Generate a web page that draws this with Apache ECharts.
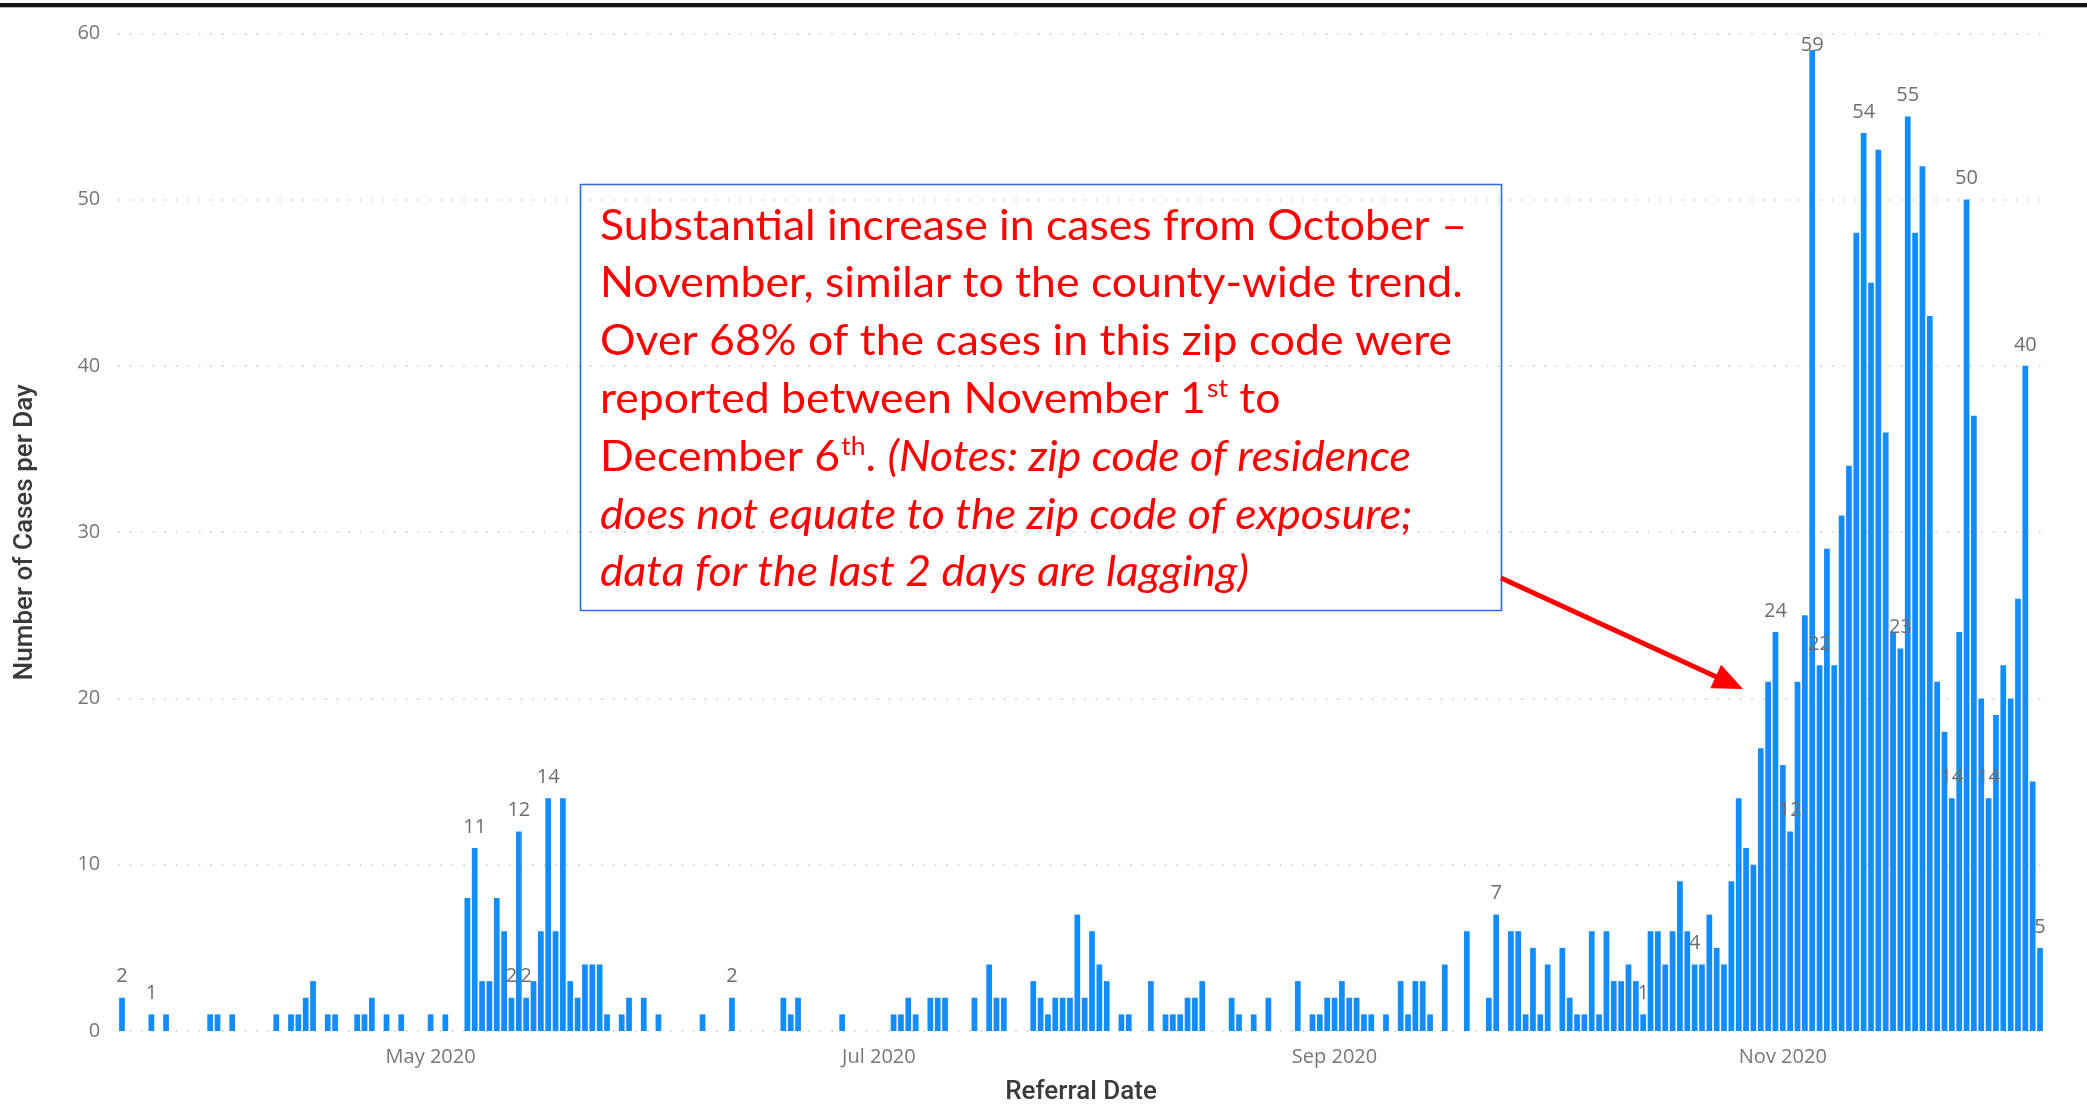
<!DOCTYPE html>
<html>
<head>
<meta charset="utf-8">
<script src="https://cdn.jsdelivr.net/npm/echarts/dist/echarts.min.js"></script>
<style>
  html, body { margin: 0; padding: 0; background: #ffffff; }
  #chart { width: 2087px; height: 1110px; }
</style>
</head>
<body>
<div id="chart"></div>
<script>
// daily cases by referral date, first day is 2020-03-20
const startDate = [2020, 2, 20];
const mar = [2, 0, 0, 0, 1, 0, 1, 0, 0, 0, 0, 0];
const apr = [1, 1, 0, 1, 0, 0, 0, 0, 0, 1, 0, 1, 1, 2, 3, 0, 1, 1, 0, 0, 1, 1, 2, 0, 1, 0, 1, 0, 0, 0];
const may = [1, 0, 1, 0, 0, 8, 11, 3, 3, 8, 6, 2, 12, 2, 3, 6, 14, 6, 14, 3, 2, 4, 4, 4, 1, 0, 1, 2, 0, 2, 0];
const jun = [1, 0, 0, 0, 0, 0, 1, 0, 0, 0, 2, 0, 0, 0, 0, 0, 0, 2, 1, 2, 0, 0, 0, 0, 0, 1, 0, 0, 0, 0];
const jul = [0, 0, 1, 1, 2, 1, 0, 2, 2, 2, 0, 0, 0, 2, 0, 4, 2, 2, 0, 0, 0, 3, 2, 1, 2, 2, 2, 7, 2, 6, 4];
const aug = [3, 0, 1, 1, 0, 0, 3, 0, 1, 1, 1, 2, 2, 3, 0, 0, 0, 2, 1, 0, 1, 0, 2, 0, 0, 0, 3, 0, 1, 1, 2];
const sep = [2, 3, 2, 2, 1, 1, 0, 1, 0, 3, 1, 3, 3, 1, 0, 4, 0, 0, 6, 0, 0, 2, 7, 0, 6, 6, 1, 5, 1, 4];
const oct = [0, 5, 2, 1, 1, 6, 1, 6, 3, 3, 4, 3, 1, 6, 6, 4, 6, 9, 6, 4, 4, 7, 5, 4, 9, 14, 11, 10, 17, 21, 24];
const nov = [16, 12, 21, 25, 59, 22, 29, 22, 31, 34, 48, 54, 45, 53, 36, 24, 23, 55, 48, 52, 43, 21, 18, 14, 24, 50, 37, 20, 14, 19];
const dec = [22, 20, 26, 40, 15, 5];

// days that carry a data label
const labeledDays = ['2020-03-20', '2020-03-24', '2020-05-07', '2020-05-12', '2020-05-13', '2020-05-14',
  '2020-05-17', '2020-06-11', '2020-09-23', '2020-10-13', '2020-10-20', '2020-10-31', '2020-11-02',
  '2020-11-05', '2020-11-06', '2020-11-12', '2020-11-17', '2020-11-18', '2020-11-24', '2020-11-26',
  '2020-11-29', '2020-12-04', '2020-12-06'];

const tickMonths = ['2020-05', '2020-07', '2020-09', '2020-11'];
const monthNames = ['Jan', 'Feb', 'Mar', 'Apr', 'May', 'Jun', 'Jul', 'Aug', 'Sep', 'Oct', 'Nov', 'Dec'];

const noteLines = [
  [['n', 'Substantial increase in cases from October –']],
  [['n', 'November, similar to the county-wide trend.']],
  [['n', 'Over 68% of the cases in this zip code were']],
  [['n', 'reported between November 1'], ['sup', 'st'], ['n', ' to']],
  [['n', 'December 6'], ['sup', 'th'], ['n', '. '], ['i', '(Notes: zip code of residence']],
  [['i', 'does not equate to the zip code of exposure;']],
  [['i', 'data for the last 2 days are lagging)']]
];

var dailyCases = [].concat(mar, apr, may, jun, jul, aug, sep, oct, nov, dec);
var yMax = 60;

function pad(n) { return n < 10 ? '0' + n : '' + n; }

var days = [];
for (var i = 0; i < dailyCases.length; i++) {
  var d = new Date(startDate[0], startDate[1], startDate[2] + i);
  days.push(d.getFullYear() + '-' + pad(d.getMonth() + 1) + '-' + pad(d.getDate()));
}

var barData = dailyCases.map(function (v, i) {
  if (labeledDays.indexOf(days[i]) >= 0) {
    // labels near the top stay inside the plot, like the original
    if (v > yMax - 3) return { value: v, label: { show: true, distance: -5 } };
    return { value: v, label: { show: true } };
  }
  return v;
});

var chart = echarts.init(document.getElementById('chart'), null, { renderer: 'canvas' });

var RED = '#ff0000';
var noteFont = 'Lato';
var noteSize = 42;

// squeeze the note text to the width of the original box lines
var cv = document.createElement('canvas').getContext('2d');
cv.font = noteSize + 'px ' + noteFont;
var noteScale = 867 / cv.measureText(noteLines[0][0][1]).width;

var graphics = [
  { type: 'rect', shape: { x: 0, y: 3, width: 2087, height: 4 }, style: { fill: '#151515' }, silent: true },
  { type: 'rect', shape: { x: 0, y: 7, width: 2087, height: 1 }, style: { fill: '#b8b8b8' }, silent: true },
  {
    type: 'rect', shape: { x: 580.5, y: 184.5, width: 921, height: 426 },
    style: { fill: null, stroke: '#2b6de0', lineWidth: 1.6 }, z: 10
  }
];

noteLines.forEach(function (line, k) {
  var txt = line.map(function (seg) { return '{' + seg[0] + '|' + seg[1] + '}'; }).join('');
  graphics.push({
    type: 'text',
    x: 600,
    y: 226 + k * 57.8,
    scaleX: noteScale,
    z: 11,
    style: {
      text: txt,
      fill: RED,
      verticalAlign: 'middle',
      rich: {
        n: { fontFamily: noteFont, fontSize: noteSize, color: RED, lineHeight: 50, verticalAlign: 'middle' },
        i: { fontFamily: noteFont, fontSize: noteSize, fontStyle: 'italic', color: RED, lineHeight: 50, verticalAlign: 'middle' },
        sup: { fontFamily: noteFont, fontSize: 25, color: RED, lineHeight: 50, verticalAlign: 'top', padding: [2, 0, 0, 1] }
      }
    }
  });
});

// arrow from the note box to the October rise
var ax1 = 1501, ay1 = 578, ax2 = 1743, ay2 = 689;
var ang = Math.atan2(ay2 - ay1, ax2 - ax1);
var headLen = 30, headHalf = 13;
var bx = ax2 - headLen * Math.cos(ang), by = ay2 - headLen * Math.sin(ang);
graphics.push({
  type: 'line', z: 11,
  shape: { x1: ax1, y1: ay1, x2: bx + 4 * Math.cos(ang), y2: by + 4 * Math.sin(ang) },
  style: { stroke: RED, lineWidth: 5 }
});
graphics.push({
  type: 'polygon', z: 11,
  shape: {
    points: [
      [ax2, ay2],
      [bx - headHalf * Math.sin(ang), by + headHalf * Math.cos(ang)],
      [bx + headHalf * Math.sin(ang), by - headHalf * Math.cos(ang)]
    ]
  },
  style: { fill: RED }
});

var option = {
  animation: false,
  backgroundColor: '#ffffff',
  grid: { left: 118.3, right: 43.3, top: 33.3, bottom: 73.5, containLabel: false },
  xAxis: {
    type: 'category',
    data: days,
    boundaryGap: true,
    name: 'Referral Date',
    nameLocation: 'middle',
    nameGap: 48,
    nameTextStyle: { fontFamily: 'Roboto', fontSize: 26, fontWeight: 500, color: '#3a3a3a' },
    axisLine: { show: false },
    axisTick: { show: false },
    splitLine: { show: false },
    axisLabel: {
      interval: function (idx, val) {
        return val.slice(8) === '01' && tickMonths.indexOf(val.slice(0, 7)) >= 0;
      },
      formatter: function (val) {
        return monthNames[parseInt(val.slice(5, 7), 10) - 1] + ' ' + val.slice(0, 4);
      },
      margin: 16,
      fontFamily: 'Open Sans',
      fontSize: 20,
      color: '#777777'
    }
  },
  yAxis: {
    type: 'value',
    min: 0,
    max: yMax,
    interval: 10,
    name: 'Number of Cases per Day',
    nameLocation: 'middle',
    nameGap: 80,
    nameTextStyle: { fontFamily: 'Roboto', fontSize: 26, fontWeight: 500, color: '#3a3a3a' },
    axisLine: { show: false },
    axisTick: { show: false },
    axisLabel: { margin: 18, fontFamily: 'Open Sans', fontSize: 20, color: '#777777' },
    splitLine: { show: true, lineStyle: { color: '#c4c4c4', width: 1.5, type: [1.5, 10] } }
  },
  series: [{
    type: 'bar',
    data: barData,
    barCategoryGap: '22%',
    itemStyle: { color: '#118DFF' },
    label: {
      show: false,
      position: 'top',
      distance: 11,
      fontFamily: 'Open Sans',
      fontSize: 20,
      color: '#6e6e6e'
    }
  }],
  graphic: graphics
};

chart.setOption(option);
</script>
</body>
</html>
